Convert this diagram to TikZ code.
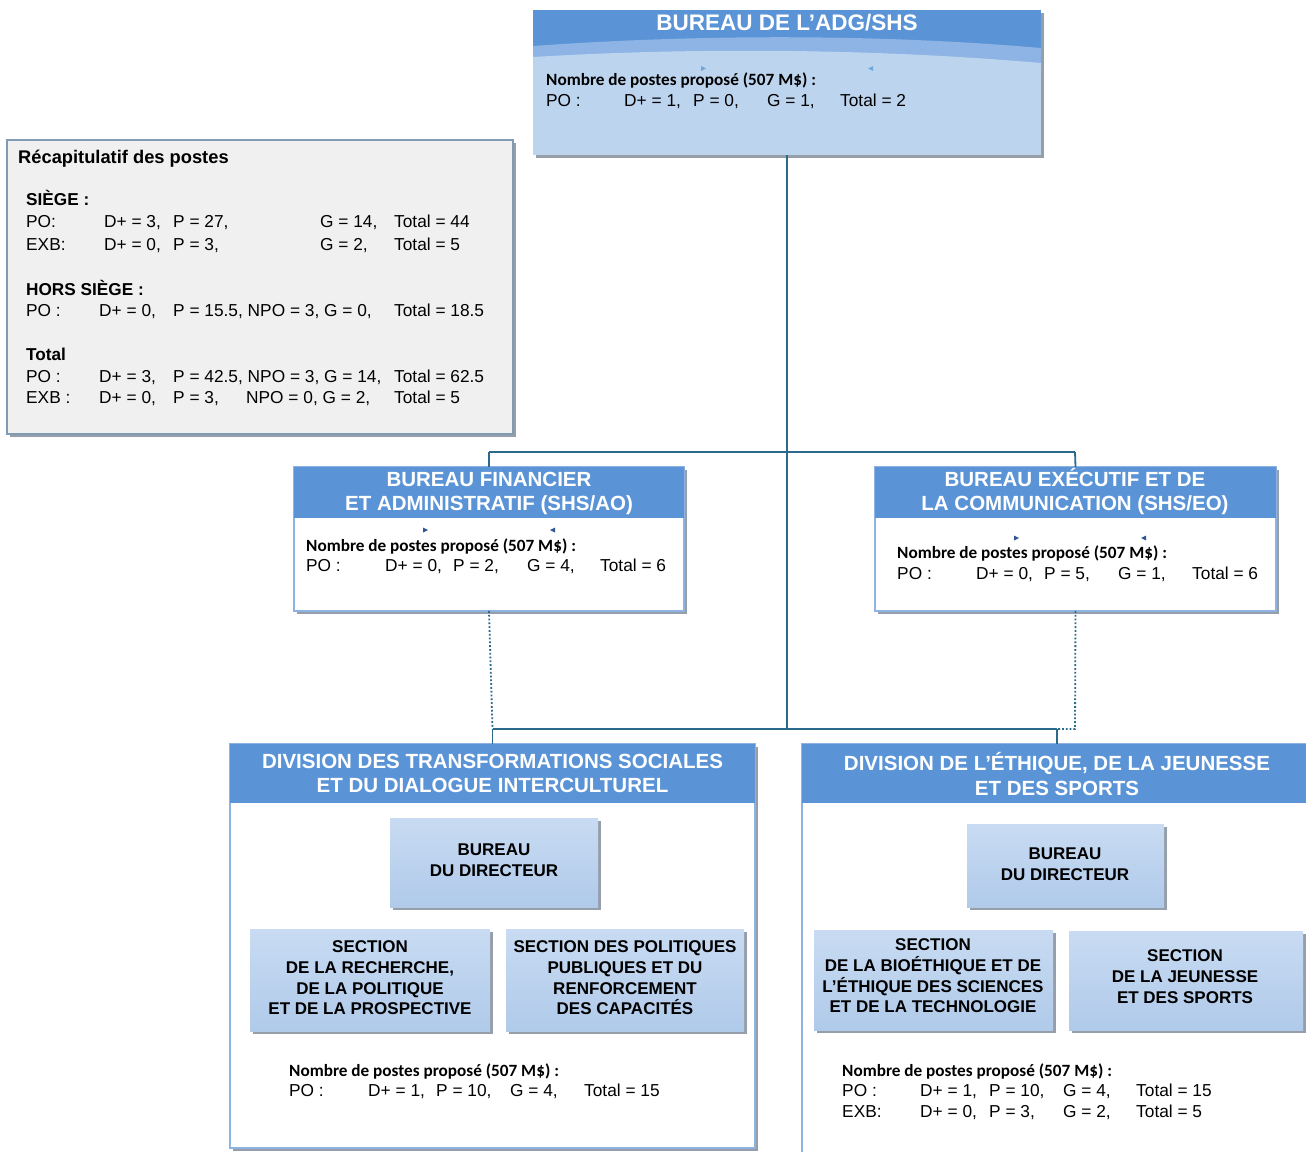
\documentclass[tikz,border=0pt]{standalone}
\usepackage{fontspec}
\setmainfont{Liberation Sans}
\newfontfamily\calf{Carlito}
\usetikzlibrary{shadows}
\definecolor{hblue}{RGB}{91,148,214}
\definecolor{lband}{RGB}{141,180,228}
\definecolor{topbody}{RGB}{189,212,238}
\definecolor{sboxtop}{RGB}{200,219,242}
\definecolor{sboxbot}{RGB}{176,202,234}
\definecolor{borderc}{RGB}{141,179,226}
\definecolor{shadowc}{RGB}{150,158,170}
\definecolor{connc}{RGB}{44,106,140}
\definecolor{recapfill}{RGB}{240,240,240}
\definecolor{recapborder}{RGB}{130,155,180}
\definecolor{trilight}{RGB}{111,168,220}
\definecolor{tridark}{RGB}{47,85,151}
\begin{document}
\begin{tikzpicture}[x=1pt,y=-1pt,
  conn/.style={draw=connc,line width=1.8pt},
  dotc/.style={draw=connc,line width=1.8pt,dotted},
  shad/.style={drop shadow={shadow xshift=3pt,shadow yshift=-3pt,fill=shadowc,opacity=1}},
  boxn/.style={anchor=north west,inner sep=0,outer sep=0},
  htxt/.style={text=white,font=\fontsize{20.5}{24.5}\selectfont\bfseries,align=center,inner sep=0},
  dat/.style={font=\fontsize{17.3}{20}\selectfont,anchor=base west,inner sep=0},
  nb/.style={font=\calf\fontsize{17.2}{20}\selectfont\bfseries,anchor=base west,inner sep=0},
  bld/.style={font=\fontsize{17.2}{20}\selectfont\bfseries,anchor=base west,inner sep=0},
  sbox/.style={top color=sboxtop,bottom color=sboxbot,draw=none,anchor=north west,inner sep=0,outer sep=0,shad},
  stxt/.style={align=center,inner sep=0,font=\fontsize{17}{20.7}\selectfont\bfseries},
]
\useasboundingbox (0,0) rectangle (1306,1151);
\fill[white] (0,0) rectangle (1306,1151);

% ---------- connector points ----------
\coordinate (j1) at (787,452);
\coordinate (lj) at (489,452);
\coordinate (rj) at (1075,452);
\coordinate (j2) at (787,729);
\coordinate (bl) at (492.5,729);
\coordinate (br) at (1057,729);
\coordinate (rc) at (1075,729);

% ---------- top box ----------
\node[boxn,fill=topbody,minimum width=508pt,minimum height=145pt,shad] (adg) at (533,10) {};
\fill[hblue] (533,10) rectangle (1041,60);
\fill[lband] (533,46) .. controls (700,34) and (880,34) .. (1041,48) -- (1041,64) .. controls (880,50) and (700,48) .. (533,58) -- cycle;
\fill[topbody] (533,57) .. controls (700,47) and (880,49) .. (1041,63) -- (1041,70) -- (533,70) -- cycle;
\node[text=white,font=\fontsize{22.5}{26}\selectfont\bfseries,inner sep=0] (adgt) at (787,23) {BUREAU DE L’ADG/SHS};
\fill[trilight] (701,66) -- (706,68.5) -- (701,71) -- cycle;
\fill[trilight] (873,66) -- (868,68.5) -- (873,71) -- cycle;
\node[nb] at (546,85) {Nombre de postes proposé (507 M\$) :};
\node[dat] at (546,106) {PO :};
\node[dat] at (624,106) {D+ = 1,};
\node[dat] at (693,106) {P = 0,};
\node[dat] at (767,106) {G = 1,};
\node[dat] at (840,106) {Total = 2};

% ---------- recap box ----------
\node[boxn,fill=recapfill,draw=recapborder,line width=1.2pt,minimum width=506pt,minimum height=294pt,shad] (recap) at (7,140) {};
\node[font=\fontsize{18.3}{20}\selectfont\bfseries,anchor=base west,inner sep=0] at (18,163) {Récapitulatif des postes};
\node[bld] at (26,205) {SIÈGE :};
\node[dat] at (26,227) {PO:};
\node[dat] at (104,227) {D+ = 3,};
\node[dat] at (173,227) {P = 27,};
\node[dat] at (320,227) {G = 14,};
\node[dat] at (394,227) {Total = 44};
\node[dat] at (26,250) {EXB:};
\node[dat] at (104,250) {D+ = 0,};
\node[dat] at (173,250) {P = 3,};
\node[dat] at (320,250) {G = 2,};
\node[dat] at (394,250) {Total = 5};
\node[bld] at (26,295) {HORS SIÈGE :};
\node[dat] at (26,316) {PO :};
\node[dat] at (99,316) {D+ = 0,};
\node[dat] at (173,316) {P = 15.5, NPO = 3, G = 0,};
\node[dat] at (394,316) {Total = 18.5};
\node[bld] at (26,360) {Total};
\node[dat] at (26,382) {PO :};
\node[dat] at (99,382) {D+ = 3,};
\node[dat] at (173,382) {P = 42.5, NPO = 3, G = 14,};
\node[dat] at (394,382) {Total = 62.5};
\node[dat] at (26,403) {EXB :};
\node[dat] at (99,403) {D+ = 0,};
\node[dat] at (173,403) {P = 3,};
\node[dat] at (246,403) {NPO = 0, G = 2,};
\node[dat] at (394,403) {Total = 5};

% ---------- connectors ----------
\draw[conn] (adg.south) -- (j1) -- (j2);
\draw[conn] (lj) -- (rj);

% ---------- SHS/AO ----------
\node[boxn,fill=white,draw=borderc,line width=1.2pt,minimum width=390pt,minimum height=144pt,shad] (ao) at (294,467) {};
\fill[hblue] (294,467) rectangle (684,518);
\node[htxt] at (489,493.5) {BUREAU FINANCIER\\ET ADMINISTRATIF (SHS/AO)};
\fill[tridark] (423,527.5) -- (428,530) -- (423,532.5) -- cycle;
\fill[tridark] (555,527.5) -- (550,530) -- (555,532.5) -- cycle;
\node[nb] at (306,551) {Nombre de postes proposé (507 M\$) :};
\node[dat] at (306,571) {PO :};
\node[dat] at (385,571) {D+ = 0,};
\node[dat] at (453,571) {P = 2,};
\node[dat] at (527,571) {G = 4,};
\node[dat] at (600,571) {Total = 6};

% ---------- SHS/EO ----------
\node[boxn,fill=white,draw=borderc,line width=1.2pt,minimum width=401pt,minimum height=144pt,shad] (eo) at (875,467) {};
\fill[hblue] (875,467) rectangle (1276,518);
\node[htxt] at (1075,491.5) {BUREAU EXÉCUTIF ET DE\\LA COMMUNICATION (SHS/EO)};
\fill[tridark] (1014,535.5) -- (1019,538) -- (1014,540.5) -- cycle;
\fill[tridark] (1146,535.5) -- (1141,538) -- (1146,540.5) -- cycle;
\node[nb] at (897,558) {Nombre de postes proposé (507 M\$) :};
\node[dat] at (897,579) {PO :};
\node[dat] at (976,579) {D+ = 0,};
\node[dat] at (1044,579) {P = 5,};
\node[dat] at (1118,579) {G = 1,};
\node[dat] at (1192,579) {Total = 6};

\draw[conn] (lj) -- (ao.north);
\draw[conn] (rj) -- (eo.north);

% ---------- divisions ----------
\node[boxn,fill=white,draw=borderc,line width=1.2pt,minimum width=525pt,minimum height=404pt,shad] (dts) at (230,744) {};
\fill[hblue] (230,744) rectangle (755,803);
\node[htxt] at (492.5,773.5) {DIVISION DES TRANSFORMATIONS SOCIALES\\ET DU DIALOGUE INTERCULTUREL};

\node[boxn,fill=white,draw=borderc,line width=1.2pt,minimum width=510pt,minimum height=420pt] (ejs) at (802,744) {};
\fill[hblue] (802,744) rectangle (1312,803);
\node[htxt] at (1057,774) {DIVISION DE L’ÉTHIQUE, DE LA JEUNESSE\\ET DES SPORTS};

\draw[conn] (j2) -- (bl);
\draw[conn] (j2) -- (br);
\draw[conn] (bl) -- (dts.north);
\draw[conn] (br) -- (ejs.north);
\draw[dotc] (ao.south) -- (bl);
\draw[dotc] (eo.south) -- (rc) -- (br);

% ---------- sub boxes left ----------
\node[sbox,minimum width=208pt,minimum height=89pt] (bdl) at (390,818) {};
\node[stxt] at (494,860) {BUREAU\\DU DIRECTEUR};
\node[sbox,minimum width=240pt,minimum height=102pt] (srp) at (250,929) {};
\node[stxt] at (370,978) {SECTION\\DE LA RECHERCHE,\\DE LA POLITIQUE\\ET DE LA PROSPECTIVE};
\node[sbox,minimum width=238pt,minimum height=102pt] (spp) at (506,929) {};
\node[stxt] at (625,978) {SECTION DES POLITIQUES\\PUBLIQUES ET DU\\RENFORCEMENT\\DES CAPACITÉS};
\node[nb] at (289,1076) {Nombre de postes proposé (507 M\$) :};
\node[dat] at (289,1096) {PO :};
\node[dat] at (368,1096) {D+ = 1,};
\node[dat] at (436,1096) {P = 10,};
\node[dat] at (510,1096) {G = 4,};
\node[dat] at (584,1096) {Total = 15};

% ---------- sub boxes right ----------
\node[sbox,minimum width=197pt,minimum height=83pt] (bdr) at (967,824) {};
\node[stxt] at (1065,864) {BUREAU\\DU DIRECTEUR};
\node[sbox,minimum width=239pt,minimum height=100pt] (sbe) at (814,930) {};
\node[stxt] at (933,976) {SECTION\\DE LA BIOÉTHIQUE ET DE\\L’ÉTHIQUE DES SCIENCES\\ET DE LA TECHNOLOGIE};
\node[sbox,minimum width=234pt,minimum height=99pt] (sjs) at (1069,931) {};
\node[stxt] at (1185,976.5) {SECTION\\DE LA JEUNESSE\\ET DES SPORTS};
\node[nb] at (842,1076) {Nombre de postes proposé (507 M\$) :};
\node[dat] at (842,1096) {PO :};
\node[dat] at (920,1096) {D+ = 1,};
\node[dat] at (989,1096) {P = 10,};
\node[dat] at (1063,1096) {G = 4,};
\node[dat] at (1136,1096) {Total = 15};
\node[dat] at (842,1117) {EXB:};
\node[dat] at (920,1117) {D+ = 0,};
\node[dat] at (989,1117) {P = 3,};
\node[dat] at (1063,1117) {G = 2,};
\node[dat] at (1136,1117) {Total = 5};
\end{tikzpicture}
\end{document}
